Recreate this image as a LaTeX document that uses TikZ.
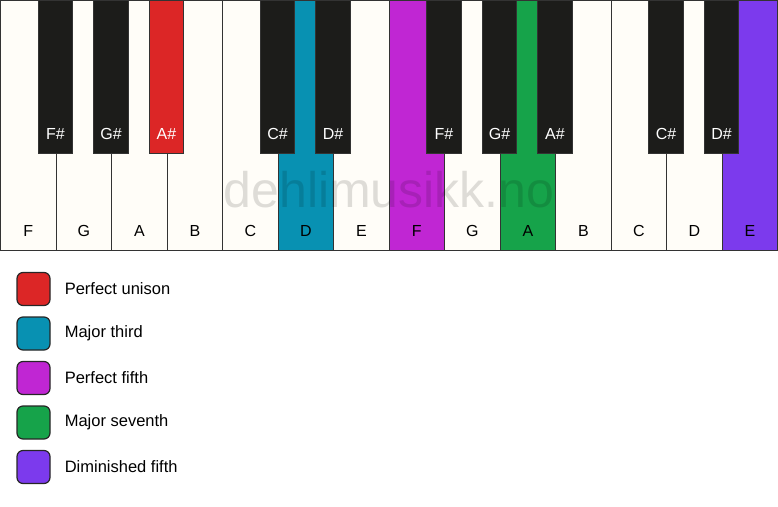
\documentclass[tikz,border=0pt]{standalone}
\usepackage{fontspec}
\setmainfont{Liberation Sans}
\usetikzlibrary{positioning}

\definecolor{ivory}{HTML}{FFFDF8}
\definecolor{keyblack}{HTML}{1C1C1A}
\definecolor{unison}{HTML}{DC2626}
\definecolor{third}{HTML}{0891B2}
\definecolor{fifth}{HTML}{C026D3}
\definecolor{seventh}{HTML}{16A34A}
\definecolor{dimfifth}{HTML}{7C3AED}

\begin{document}
\begin{tikzpicture}[x=1pt, y=-1pt]
        \tikzstyle{wkey}=[draw=black!80, line width=1.2pt, rectangle, anchor=north west, minimum width=55.5pt, minimum height=250pt, inner sep=0pt]
        \tikzstyle{bkey}=[draw=black!80, line width=1pt, rectangle, anchor=north, minimum width=34.5pt, minimum height=153pt, inner sep=0pt]
        \tikzstyle{wlab}=[font=\fontsize{16}{18}\selectfont, text=black]
        \tikzstyle{blab}=[font=\fontsize{16}{18}\selectfont, text=white]
        \tikzstyle{swatch}=[draw=black!85, line width=1.2pt, rounded corners=6pt, minimum size=33pt, inner sep=0pt]
        \tikzstyle{entry}=[font=\fontsize{16.5}{19}\selectfont, anchor=west, inner sep=0pt]

        \useasboundingbox (0,0) rectangle (778,506);

        % white keys
        \foreach \n/\c [count=\i from 0] in {F/ivory, G/ivory, A/ivory, B/ivory, C/ivory, D/third, E/ivory,
                                             F/fifth, G/ivory, A/seventh, B/ivory, C/ivory, D/ivory, E/dimfifth}
        {
            \node (w\i) [wkey, fill=\c] at (\i*55.5, 0) {};
            \node [wlab] at ([yshift=20pt]w\i.south) {\n};
        }

        % watermark
        \node [font=\fontsize{50}{54}\selectfont, text=black, opacity=0.13, anchor=base] at (389, 207) {dehlimusikk.no};

        % black keys
        \foreach \n/\c/\k in {F\#/keyblack/1, G\#/keyblack/2, A\#/unison/3, C\#/keyblack/5, D\#/keyblack/6,
                              F\#/keyblack/8, G\#/keyblack/9, A\#/keyblack/10, C\#/keyblack/12, D\#/keyblack/13}
        {
            \node (b\k) [bkey, fill=\c] at (\k*55.5, 0) {};
            \node [blab] at ([yshift=20pt]b\k.south) {\n};
        }

        % legend
        \node (s1) [swatch, fill=unison] at (33.5, 289) {};
        \node (s2) [swatch, fill=third, below=10.3pt of s1] {};
        \node (s3) [swatch, fill=fifth, below=10.3pt of s2] {};
        \node (s4) [swatch, fill=seventh, below=10.3pt of s3] {};
        \node (s5) [swatch, fill=dimfifth, below=10.3pt of s4] {};

        \node (t1) [entry, right=14pt of s1] {Perfect unison};
        \node (t2) [entry, right=14pt of s2] {Major third};
        \node (t3) [entry, right=14pt of s3] {Perfect fifth};
        \node (t4) [entry, right=14pt of s4] {Major seventh};
        \node (t5) [entry, right=14pt of s5] {Diminished fifth};

    \end{tikzpicture}
\end{document}
